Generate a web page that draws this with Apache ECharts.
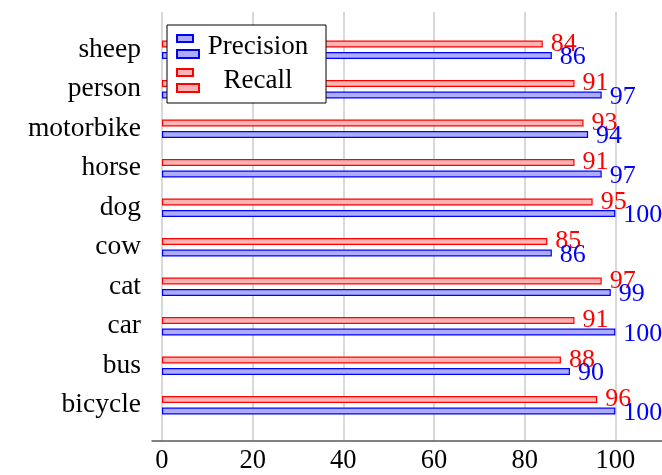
<!DOCTYPE html>
<html>
<head>
<meta charset="utf-8">
<script src="https://cdn.jsdelivr.net/npm/echarts@6/dist/echarts.min.js"></script>
<style>
  html, body { margin: 0; padding: 0; background: #fff; }
  #chart { width: 662px; height: 475px; }
</style>
</head>
<body>
<div id="chart"></div>
<script>
// classes, bottom to top
const categories = ['bicycle', 'bus', 'car', 'cat', 'cow', 'dog', 'horse', 'motorbike', 'person', 'sheep'];
const precision = [100, 90, 100, 99, 86, 100, 97, 94, 97, 86];
const recall = [96, 88, 91, 97, 85, 95, 91, 93, 91, 84];
const xTicks = [0, 20, 40, 60, 80, 100];

const serif = '"Liberation Serif", "DejaVu Serif", serif';
const xMin = -2.2;
const xMax = 110.3;

const chart = echarts.init(document.getElementById('chart'));

// two bars icon, like the pgfplots xbar legend image
const barIcon = 'path://M0,0h16v7h-16z M0,15h22v8h-22z';

const valueLabel = (color, dy) => ({
  show: true,
  position: 'right',
  distance: 8,
  offset: [0, dy],
  fontSize: 26,
  fontFamily: serif,
  color: color
});

const option = {
  backgroundColor: '#fff',
  animation: false,
  textStyle: { fontFamily: serif },
  grid: [
    // bars
    { left: 152, right: 0, top: 30, bottom: 50 },
    // frame: grid lines + x axis
    { left: 152, right: 0, top: 12, bottom: 32 }
  ],
  legend: {
    left: 167,
    top: 25,
    orient: 'vertical',
    backgroundColor: '#fff',
    borderColor: '#000',
    borderWidth: 1,
    padding: [8, 14, 9, 9],
    itemWidth: 22,
    itemHeight: 23,
    itemGap: 7,
    icon: barIcon,
    data: ['Precision', 'Recall'],
    formatter: name => '{t|' + name + '}',
    textStyle: {
      rich: {
        t: {
          width: 108,
          align: 'center',
          fontSize: 27,
          lineHeight: 23,
          fontFamily: serif,
          color: '#000'
        }
      }
    }
  },
  xAxis: [
    {
      gridIndex: 0,
      type: 'value',
      min: xMin,
      max: xMax,
      show: false
    },
    {
      gridIndex: 1,
      type: 'value',
      min: xMin,
      max: xMax,
      axisLine: { show: true, lineStyle: { color: '#5a5a5a', width: 1.5 } },
      axisTick: { show: false, customValues: xTicks },
      axisLabel: {
        customValues: xTicks,
        fontSize: 26.5,
        fontFamily: serif,
        color: '#000',
        margin: 7
      },
      splitLine: { show: true, lineStyle: { color: '#cccccc', width: 1.5 } }
    }
  ],
  yAxis: [
    {
      gridIndex: 0,
      type: 'category',
      data: categories,
      axisLine: { show: false },
      axisTick: { show: false },
      axisLabel: {
        fontSize: 27.5,
        fontFamily: serif,
        color: '#000',
        margin: 11
      }
    },
    {
      gridIndex: 1,
      type: 'value',
      show: false
    }
  ],
  series: [
    {
      name: 'Recall',
      type: 'bar',
      xAxisIndex: 0,
      yAxisIndex: 0,
      data: recall,
      barWidth: 7,
      barGap: '65%',
      itemStyle: { color: '#ffb3b3', borderColor: '#ff0000', borderWidth: 1.2 },
      label: valueLabel('#ff0000', 0)
    },
    {
      name: 'Precision',
      type: 'bar',
      xAxisIndex: 0,
      yAxisIndex: 0,
      data: precision,
      barWidth: 7,
      barGap: '65%',
      itemStyle: { color: '#adadfc', borderColor: '#0000ff', borderWidth: 1.2 },
      label: valueLabel('#0000ff', 2)
    }
  ]
};

chart.setOption(option);
</script>
</body>
</html>
